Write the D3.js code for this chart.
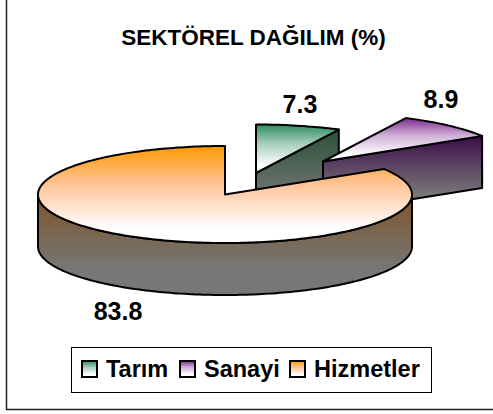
<!DOCTYPE html>
<html>
<head>
<meta charset="utf-8">
<script src="https://cdn.jsdelivr.net/npm/d3@7"></script>
<style>
  html, body { margin: 0; padding: 0; background: #fff; }
  svg { display: block; }
  text { font-family: "Liberation Sans", Arial, sans-serif; font-weight: bold; fill: #000; }
</style>
</head>
<body>
<div id="pie3d"></div>
<script>
const categories = ["Tarım", "Sanayi", "Hizmetler"];
const values = [7.3, 8.9, 83.8];
const valueLabels = ["7.3", "8.9", "83.8"];
const chartTitle = "SEKTÖREL DAĞILIM (%)";

const width = 493;
const height = 414;
const rx = 187;
const ry = 48.5;
const depth = 52;

// exploded slice centres
const centers = [[256, 173], [323, 161.5], [225, 194.5]];
const labelPos = [[300, 113], [441, 108], [118, 320]];
const topColors = ["#2e8b62", "#7d2a8e", "#ff9900"];
const midColors = ["#a8cfbc", "#cfb0d6", "#ffc49a"];
const sideColors = ["#2a5238", "#3c0d4a", "#7e5426"];

const svg = d3.select("#pie3d").append("svg")
    .attr("width", width)
    .attr("height", height);

const defs = svg.append("defs");

function addGradient(id, stops) {
    const g = defs.append("linearGradient")
        .attr("id", id)
        .attr("x1", 0).attr("y1", 0)
        .attr("x2", 0).attr("y2", 1);
    stops.forEach(s => {
        g.append("stop").attr("offset", s[0]).attr("stop-color", s[1]);
    });
}

topColors.forEach((c, i) => {
    addGradient("top" + i, [["0%", c], ["40%", midColors[i]], ["85%", "#ffffff"], ["100%", "#ffffff"]]);
    addGradient("side" + i, [["0%", sideColors[i]], ["75%", "#777777"], ["100%", "#777777"]]);
});

// frame, only left and bottom edges are in the picture
svg.append("path")
    .attr("d", "M6.5,0V409.5H493")
    .attr("fill", "none")
    .attr("stroke", "#222")
    .attr("stroke-width", 1.5);

svg.append("text")
    .attr("x", 253.5)
    .attr("y", 45)
    .attr("text-anchor", "middle")
    .style("font-size", "22.5px")
    .text(chartTitle);

const pie = d3.pie().sort(null).startAngle(0).endAngle(2 * Math.PI);
const arcs = pie(values);

function px(a) { return rx * Math.sin(a); }
function py(a) { return -ry * Math.cos(a); }

const lineGen = d3.line();

function arcPoints(a0, a1, dy) {
    const n = Math.max(2, Math.ceil((a1 - a0) / 0.02));
    return d3.range(n + 1).map(k => {
        const a = a0 + (a1 - a0) * k / n;
        return [px(a), py(a) + dy];
    });
}

const slices = svg.append("g").selectAll("g")
    .data(arcs)
    .join("g")
    .attr("transform", (d, i) => "translate(" + centers[i] + ")")
    .attr("stroke", "#000")
    .attr("stroke-width", 2)
    .attr("stroke-linejoin", "round");

// side walls first
slices.each(function(d, i) {
    const g = d3.select(this);
    const walls = [];
    if (i < 2) {
        // cut face on the end of the slice, seen from the front
        const e = [px(d.endAngle), py(d.endAngle)];
        walls.push([[0, 0], e, [e[0], e[1] + depth], [0, depth]]);
    }
    // outer wall, only the front half of the ellipse shows
    const a0 = Math.max(d.startAngle, Math.PI / 2);
    const a1 = Math.min(d.endAngle, 3 * Math.PI / 2);
    if (a1 > a0) {
        walls.push(arcPoints(a0, a1, 0).concat(arcPoints(a0, a1, depth).reverse()));
    }
    walls.forEach(w => {
        g.append("path")
            .attr("d", lineGen(w) + "Z")
            .attr("fill", "url(#side" + i + ")");
    });
    // top face
    const pts = [[0, 0]].concat(arcPoints(d.startAngle, d.endAngle, 0));
    g.append("path")
        .attr("d", lineGen(pts) + "Z")
        .attr("fill", "url(#top" + i + ")");
});

svg.append("g").selectAll("text")
    .data(valueLabels)
    .join("text")
    .attr("x", (d, i) => labelPos[i][0])
    .attr("y", (d, i) => labelPos[i][1])
    .attr("text-anchor", "middle")
    .style("font-size", "25px")
    .text(d => d);

// legend
const legend = svg.append("g");
legend.append("rect")
    .attr("x", 71.5).attr("y", 347.5)
    .attr("width", 360).attr("height", 45)
    .attr("fill", "#fff")
    .attr("stroke", "#000");

const legendX = [82, 180, 290];
const items = legend.selectAll("g")
    .data(categories)
    .join("g")
    .attr("transform", (d, i) => "translate(" + legendX[i] + ",361)");

items.append("rect")
    .attr("width", 15).attr("height", 16)
    .attr("fill", (d, i) => "url(#top" + i + ")")
    .attr("stroke", "#000")
    .attr("stroke-width", 2);

items.append("text")
    .attr("x", 24)
    .attr("y", 16)
    .style("font-size", "23.5px")
    .text(d => d);
</script>
</body>
</html>
